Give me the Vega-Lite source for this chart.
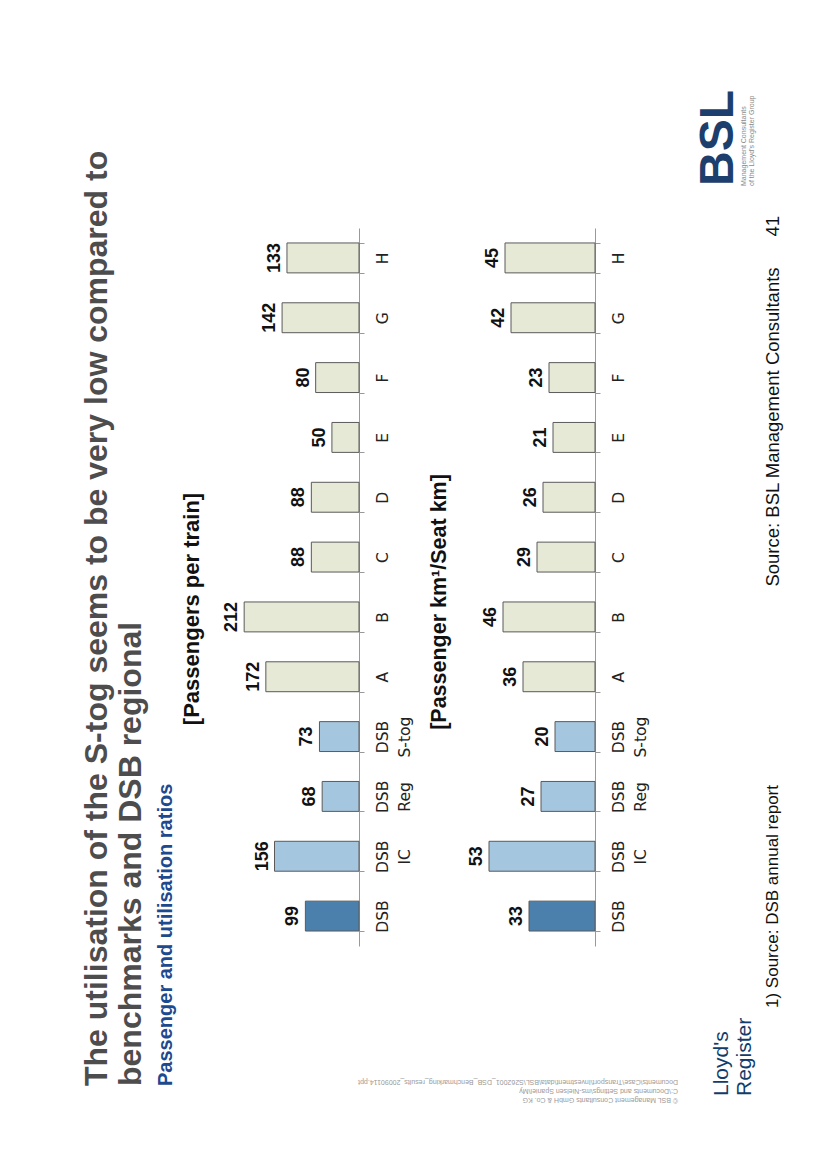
{
  "$schema": "https://vega.github.io/schema/vega-lite/v6.json",
  "background": "white",
  "padding": {"left": 81, "top": 90, "right": 5, "bottom": 5},
  "bounds": "flush",
  "spacing": 116,
  "title": {
    "text": ["The utilisation of the S-tog seems to be very low compared to", "benchmarks and DSB regional"],
    "subtitle": "Passenger and utilisation ratios",
    "orient": "left",
    "anchor": "start",
    "frame": "bounds",
    "font": "Liberation Sans",
    "fontSize": 32,
    "fontWeight": "bold",
    "color": "#4d4d4d",
    "lineHeight": 34,
    "subtitleFont": "Liberation Sans",
    "subtitleFontSize": 20,
    "subtitleFontWeight": "bold",
    "subtitleColor": "#1d4a8f",
    "subtitlePadding": 8,
    "offset": 4,
    "dx": 18
  },
  "datasets": {
    "bars": [
      {"cat": "DSB", "group": "DSB", "ppt": 99, "pkm": 33},
      {"cat": "DSB IC", "group": "DSB segment", "ppt": 156, "pkm": 53},
      {"cat": "DSB Reg", "group": "DSB segment", "ppt": 68, "pkm": 27},
      {"cat": "DSB S-tog", "group": "DSB segment", "ppt": 73, "pkm": 20},
      {"cat": "A", "group": "Benchmark", "ppt": 172, "pkm": 36},
      {"cat": "B", "group": "Benchmark", "ppt": 212, "pkm": 46},
      {"cat": "C", "group": "Benchmark", "ppt": 88, "pkm": 29},
      {"cat": "D", "group": "Benchmark", "ppt": 88, "pkm": 26},
      {"cat": "E", "group": "Benchmark", "ppt": 50, "pkm": 21},
      {"cat": "F", "group": "Benchmark", "ppt": 80, "pkm": 23},
      {"cat": "G", "group": "Benchmark", "ppt": 142, "pkm": 42},
      {"cat": "H", "group": "Benchmark", "ppt": 133, "pkm": 45}
    ],
    "side": [
      {"item": "footnote", "col": "note", "end": "bottom", "label": "1) Source: DSB annual report"},
      {"item": "source", "col": "note", "end": "top", "label": "Source: BSL Management Consultants\u00a0\u00a0\u00a0\u00a0\u00a0\u00a041"},
      {"item": "bsl", "col": "logo", "end": "top", "label": "BSL"},
      {"item": "bsltag", "col": "logo", "end": "top", "label": "Management Consultants\nof the Lloyd's Register Group"},
      {"item": "lloyds", "col": "logo", "end": "bottom", "label": "Lloyd's\nRegister"},
      {"item": "copyright", "col": "logo", "end": "bottom", "label": "© BSL Management Consultants GmbH & Co. KG\nC:\\Documents and Settings\\ms-Nielsen Spaniel\\My\nDocuments\\Case\\Transport\\Investment\\data\\BSL\\S262001_DSB_Benchmarking_results_20090114.ppt"}
    ]
  },
  "hconcat": [
    {
      "width": 130,
      "height": 718,
      "data": {"name": "bars"},
      "title": {"text": "[Passengers per train]", "orient": "left", "anchor": "middle", "font": "Liberation Sans", "fontSize": 22, "fontWeight": "bold", "color": "#111111", "offset": 19, "dx": -22},
      "encoding": {
        "y": {
          "field": "cat", "type": "nominal",
          "scale": {"domain": ["H", "G", "F", "E", "D", "C", "B", "A", "DSB S-tog", "DSB Reg", "DSB IC", "DSB"], "paddingInner": 0.5, "paddingOuter": 0.25},
          "axis": {"orient": "right", "title": null, "domainColor": "#999999", "tickColor": "#999999", "tickSize": 5, "tickBand": "extent", "labelAngle": 270, "labelAlign": "center", "labelBaseline": "top", "labelPadding": 11, "labelFont": "DejaVu Sans", "labelFontSize": 15.5, "labelColor": "#222222", "labelLineHeight": 22, "labelOverlap": false, "labelExpr": "split(datum.label, ' ')"}
        },
        "x": {"field": "ppt", "type": "quantitative", "scale": {"domain": [0, 240], "reverse": true, "nice": false}, "axis": null}
      },
      "layer": [
        {"mark": {"type": "bar", "stroke": "#5a5a5a", "strokeWidth": 1}, "encoding": {"color": {"field": "group", "type": "nominal", "scale": {"domain": ["DSB", "DSB segment", "Benchmark"], "range": ["#4b80ad", "#a5c6df", "#e5e9d6"]}, "legend": null}}},
        {"mark": {"type": "text", "angle": 270, "align": "center", "baseline": "bottom", "dy": -3, "font": "Liberation Sans", "fontSize": 18, "fontWeight": "bold", "color": "#111111"}, "encoding": {"text": {"field": "ppt", "type": "quantitative"}}}
      ]
    },
    {
      "width": 120,
      "height": 718,
      "data": {"name": "bars"},
      "title": {"text": "[Passenger km¹/Seat km]", "orient": "left", "anchor": "middle", "font": "Liberation Sans", "fontSize": 21.5, "fontWeight": "bold", "color": "#111111", "offset": 18, "dx": -15},
      "encoding": {
        "y": {
          "field": "cat", "type": "nominal",
          "scale": {"domain": ["H", "G", "F", "E", "D", "C", "B", "A", "DSB S-tog", "DSB Reg", "DSB IC", "DSB"], "paddingInner": 0.5, "paddingOuter": 0.25},
          "axis": {"orient": "right", "title": null, "domainColor": "#999999", "tickColor": "#999999", "tickSize": 5, "tickBand": "extent", "labelAngle": 270, "labelAlign": "center", "labelBaseline": "top", "labelPadding": 11, "labelFont": "DejaVu Sans", "labelFontSize": 15.5, "labelColor": "#222222", "labelLineHeight": 22, "labelOverlap": false, "labelExpr": "split(datum.label, ' ')"}
        },
        "x": {"field": "pkm", "type": "quantitative", "scale": {"domain": [0, 60], "reverse": true, "nice": false}, "axis": null}
      },
      "layer": [
        {"mark": {"type": "bar", "stroke": "#5a5a5a", "strokeWidth": 1}, "encoding": {"color": {"field": "group", "type": "nominal", "scale": {"domain": ["DSB", "DSB segment", "Benchmark"], "range": ["#4b80ad", "#a5c6df", "#e5e9d6"]}, "legend": null}}},
        {"mark": {"type": "text", "angle": 270, "align": "center", "baseline": "bottom", "dy": -3, "font": "Liberation Sans", "fontSize": 18, "fontWeight": "bold", "color": "#111111"}, "encoding": {"text": {"field": "pkm", "type": "quantitative"}}}
      ]
    },
    {
      "width": 75,
      "height": 785,
      "data": {"name": "side"},
      "encoding": {
        "x": {"field": "col", "type": "nominal", "scale": {"type": "point", "domain": ["logo", "note"], "padding": 1}, "axis": null},
        "y": {"field": "end", "type": "nominal", "scale": {"type": "point", "domain": ["top", "bottom"], "padding": 0}, "axis": null},
        "text": {"field": "label", "type": "nominal"}
      },
      "layer": [
        {"transform": [{"filter": "datum.item == 'footnote'"}], "mark": {"type": "text", "angle": 270, "align": "left", "baseline": "top", "dx": 5, "dy": 4, "font": "Liberation Sans", "fontSize": 17, "color": "#111111"}},
        {"transform": [{"filter": "datum.item == 'source'"}], "mark": {"type": "text", "angle": 270, "align": "right", "baseline": "top", "dx": 12, "dy": 3, "font": "Liberation Sans", "fontSize": 18.5, "color": "#111111"}},
        {"transform": [{"filter": "datum.item == 'bsl'"}], "mark": {"type": "text", "angle": 270, "align": "left", "baseline": "alphabetic", "dx": 42, "dy": -3, "font": "Liberation Sans", "fontSize": 48, "fontWeight": "bold", "color": "#1c3f6e"}},
        {"transform": [{"filter": "datum.item == 'bsltag'"}], "mark": {"type": "text", "angle": 270, "align": "left", "baseline": "top", "dx": 42, "dy": 4, "lineBreak": "\n", "lineHeight": 8, "font": "Liberation Sans", "fontSize": 7, "color": "#8a8a8a"}},
        {"transform": [{"filter": "datum.item == 'lloyds'"}], "mark": {"type": "text", "angle": 270, "align": "left", "baseline": "alphabetic", "dx": -83, "dy": -8, "lineBreak": "\n", "lineHeight": 23, "font": "Liberation Sans", "fontSize": 21, "color": "#123c6b"}},
        {"transform": [{"filter": "datum.item == 'copyright'"}], "mark": {"type": "text", "angle": 180, "align": "left", "baseline": "top", "dx": 58, "dy": -91, "lineBreak": "\n", "lineHeight": 9, "font": "Liberation Sans", "fontSize": 7, "color": "#999999"}}
      ]
    }
  ],
  "config": {"view": {"stroke": null}, "font": "Liberation Sans"}
}
